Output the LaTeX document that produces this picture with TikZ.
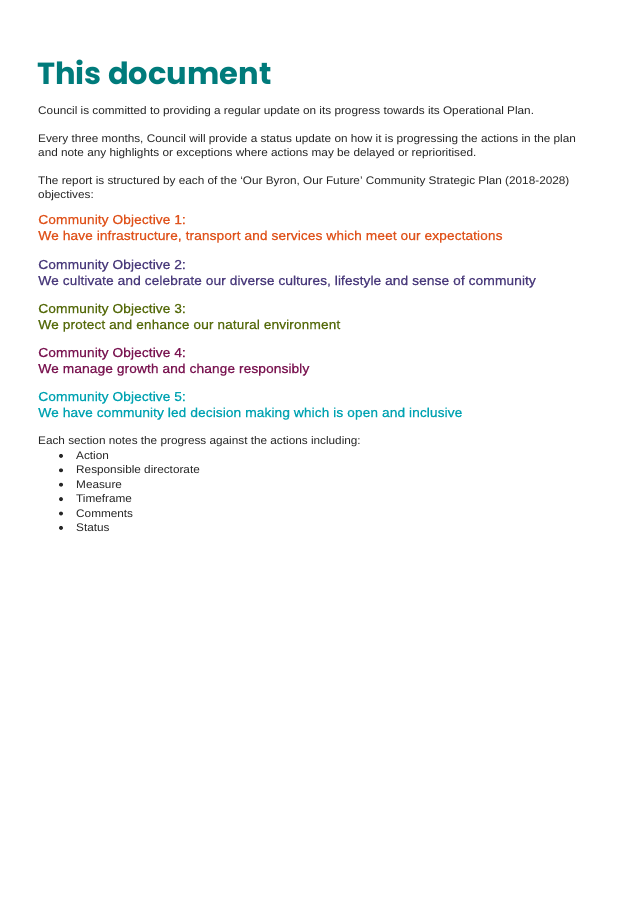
\documentclass[tikz,border=0pt]{standalone}
\usepackage{fontspec}
\setmainfont{Liberation Sans}
\newfontfamily\titlefont{Poppins}
\newfontfamily\objfont[FakeBold=0.5]{Liberation Sans}
\definecolor{teal1}{HTML}{007B7B}
\definecolor{obja}{HTML}{E0531C}
\definecolor{objb}{HTML}{4A3B7C}
\definecolor{objc}{HTML}{566B0C}
\definecolor{objd}{HTML}{7B1652}
\definecolor{obje}{HTML}{00A3B2}
\begin{document}
\begin{tikzpicture}[x=1pt,y=1pt,
  body/.style={anchor=base west,inner sep=0,transform shape,xscale=1.07,font=\fontsize{11}{14.5}\selectfont,text=black!85},
  obj/.style={anchor=base west,inner sep=0,transform shape,xscale=1.07,font=\objfont\fontsize{13}{15}\selectfont}]
\useasboundingbox[fill=white] (0,0) rectangle (638,-900);
\node[anchor=base west,inner sep=0,text=teal1,font=\titlefont\bfseries\fontsize{30.5}{34}\selectfont] (t) at (37,-84) {This document};
\node[body] (p1) at (38,-114) {Council is committed to providing a regular update on its progress towards its Operational Plan.};
\node[body] (p2a) at (38,-142) {Every three months, Council will provide a status update on how it is progressing the actions in the plan};
\node[body] (p2b) at (38,-156) {and note any highlights or exceptions where actions may be delayed or reprioritised.};
\node[body] (p3a) at (38,-184) {The report is structured by each of the ‘Our Byron, Our Future’ Community Strategic Plan (2018-2028)};
\node[body] (p3b) at (38,-198) {objectives:};
\foreach \c/\y/\a/\b in {obja/224/1/{We have infrastructure, transport and services which meet our expectations},
  objb/269/2/{We cultivate and celebrate our diverse cultures, lifestyle and sense of community},
  objc/313/3/{We protect and enhance our natural environment},
  objd/357/4/{We manage growth and change responsibly},
  obje/401/5/{We have community led decision making which is open and inclusive}}{
  \node[obj,text=\c] (o\a) at (38,-\y) {Community Objective \a:};
  \node[obj,text=\c] (ob\a) at (38,-\y-16) {\b};
}
\node[body] (p4) at (38,-444) {Each section notes the progress against the actions including:};
\foreach \t [count=\i] in {Action,Responsible directorate,Measure,Timeframe,Comments,Status}{
  \node[body] (b\i) at (76,-445-14.4*\i) {\t};
  \fill[black!85] (61,-441.5-14.4*\i) circle (2);
}
\end{tikzpicture}
\end{document}
